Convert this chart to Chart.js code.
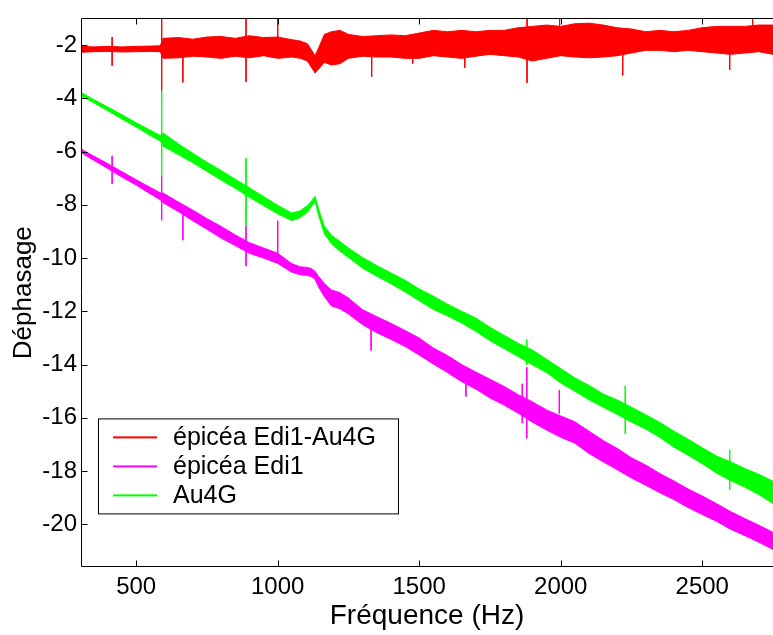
<!DOCTYPE html>
<html>
<head>
<meta charset="utf-8">
<title>Déphasage</title>
<script src="https://cdn.jsdelivr.net/npm/chart.js@4.4.1/dist/chart.umd.min.js"></script>
<style>
  html, body { margin: 0; padding: 0; background: #fff; }
  #wrap { width: 773px; height: 635px; }
</style>
</head>
<body>
<div id="wrap"><canvas id="chart" width="773" height="635"></canvas></div>
<script>
// frequencies (Hz) where the envelope of each noisy trace was read
const freq = [305, 350, 400, 450, 500, 550, 585, 595, 650, 700, 750, 800, 850, 900, 950, 1000,
  1050, 1080, 1105, 1120, 1132, 1145, 1165, 1190, 1220, 1250, 1300, 1350, 1400, 1450, 1500,
  1550, 1600, 1650, 1700, 1750, 1800, 1850, 1900, 1950, 2000, 2050, 2100, 2150, 2200, 2250,
  2300, 2350, 2400, 2450, 2500, 2550, 2600, 2650, 2700, 2750]

// épicéa Edi1-Au4G (upper / lower edge of the band)
const redHigh = [-2.05, -2.07, -2.05, -2.07, -2.05, -2.04, -2.03, -1.75, -1.72, -1.78, -1.70, -1.68, -1.75, -1.65, -1.72, -1.70,
  -1.80, -1.85, -1.95, -2.20, -2.40, -2.10, -1.60, -1.50, -1.45, -1.60, -1.68, -1.65, -1.62, -1.65, -1.55,
  -1.45, -1.50, -1.45, -1.50, -1.45, -1.45, -1.35, -1.30, -1.25, -1.30, -1.20, -1.18, -1.25, -1.35, -1.40,
  -1.50, -1.45, -1.50, -1.45, -1.35, -1.30, -1.30, -1.30, -1.25, -1.25]
const redLow = [-2.27, -2.25, -2.24, -2.26, -2.25, -2.24, -2.25, -2.50, -2.48, -2.42, -2.45, -2.50, -2.42, -2.48, -2.40, -2.50,
  -2.45, -2.50, -2.60, -2.85, -3.05, -2.90, -2.65, -2.75, -2.70, -2.50, -2.42, -2.45, -2.45, -2.50, -2.50,
  -2.40, -2.45, -2.50, -2.42, -2.35, -2.40, -2.45, -2.60, -2.50, -2.40, -2.45, -2.48, -2.45, -2.40, -2.30,
  -2.20, -2.20, -2.25, -2.20, -2.25, -2.30, -2.35, -2.30, -2.25, -2.35]

// épicéa Edi1
const magHigh = [-5.90, -6.17, -6.46, -6.76, -7.06, -7.35, -7.55, -7.56, -7.90, -8.20, -8.52, -8.81, -9.13, -9.42, -9.62, -9.82,
  -10.21, -10.33, -10.35, -10.40, -10.50, -10.70, -10.95, -11.20, -11.30, -11.50, -11.94, -12.20, -12.45, -12.72, -13.00,
  -13.38, -13.66, -14.00, -14.28, -14.55, -14.82, -15.13, -15.40, -15.70, -15.93, -16.15, -16.50, -16.85, -17.15, -17.50,
  -17.77, -18.09, -18.37, -18.67, -18.93, -19.22, -19.52, -19.78, -20.03, -20.30]
const magLow = [-6.04, -6.33, -6.64, -6.96, -7.26, -7.59, -7.81, -7.92, -8.26, -8.60, -8.92, -9.25, -9.53, -9.82, -10.00, -10.20,
  -10.53, -10.63, -10.65, -10.70, -10.80, -11.10, -11.45, -11.80, -11.90, -12.10, -12.50, -12.80, -13.05, -13.32, -13.64,
  -13.98, -14.30, -14.64, -14.92, -15.25, -15.52, -15.83, -16.16, -16.46, -16.73, -16.95, -17.34, -17.65, -17.95, -18.26,
  -18.53, -18.81, -19.07, -19.37, -19.63, -19.88, -20.18, -20.42, -20.67, -20.94]

// Au4G
const greenHigh = [-3.78, -4.05, -4.33, -4.62, -4.92, -5.20, -5.40, -5.30, -5.72, -6.06, -6.40, -6.71, -7.04, -7.36, -7.69, -8.02,
  -8.31, -8.22, -8.03, -7.85, -7.68, -8.18, -8.81, -9.14, -9.38, -9.62, -9.98, -10.28, -10.56, -10.83, -11.16,
  -11.43, -11.73, -12.00, -12.25, -12.60, -12.90, -13.20, -13.45, -13.80, -14.15, -14.50, -14.78, -15.10, -15.33, -15.60,
  -15.88, -16.17, -16.50, -16.80, -17.12, -17.43, -17.65, -17.90, -18.12, -18.38]
const greenLow = [-3.90, -4.17, -4.47, -4.78, -5.08, -5.40, -5.60, -5.80, -6.12, -6.42, -6.74, -7.07, -7.38, -7.72, -8.03, -8.34,
  -8.59, -8.48, -8.27, -8.05, -7.88, -8.42, -9.09, -9.46, -9.74, -9.98, -10.38, -10.68, -10.96, -11.27, -11.60,
  -11.93, -12.17, -12.44, -12.75, -13.10, -13.40, -13.70, -14.01, -14.30, -14.69, -15.00, -15.32, -15.60, -15.87, -16.16,
  -16.42, -16.73, -17.10, -17.40, -17.72, -18.07, -18.35, -18.60, -18.88, -19.22]

// isolated spikes: [frequency, top, bottom]
const redSpikes = [[415, -1.7, -2.78], [590, -1.0, -3.7], [665, -2.3, -3.4], [888, -1.0, -3.38], [1000, -1.0, -2.2],
  [1332, -2.3, -3.2], [1477, -2.3, -2.7], [1661, -2.3, -2.86], [1881, -1.0, -3.42], [1996, -1.0, -2.3],
  [2219, -2.2, -3.14], [2597, -2.2, -2.93], [2678, -1.0, -2.0]]
const magSpikes = [[415, -6.16, -7.21], [590, -6.9, -8.58], [665, -8.2, -9.33], [888, -8.8, -10.3], [1000, -8.6, -10.07],
  [1330, -12.55, -13.47], [1665, -14.5, -15.2], [1864, -14.72, -16.2], [1880, -14.1, -16.77], [1995, -14.96, -15.84]]
const greenSpikes = [[590, -3.7, -6.9], [888, -6.25, -8.8], [1880, -13.06, -14.0], [2228, -14.8, -16.6], [2597, -17.2, -18.7]]

const xTicks = [500, 1000, 1500, 2000, 2500]
const yTicks = [-20, -18, -16, -14, -12, -10, -8, -6, -4, -2]

const seriesNames = ['épicéa Edi1-Au4G', 'épicéa Edi1', 'Au4G']
const seriesColors = ['#ff0000', '#ff00ff', '#00ff00']

const FONT = "'Liberation Sans', Arial, sans-serif"

function edge(values) {
  return values.map((v, i) => ({ x: freq[i], y: v }))
}

function spikes(list) {
  const pts = []
  list.forEach(s => {
    pts.push({ x: s[0], y: s[1] }, { x: s[0], y: s[2] }, { x: s[0], y: null })
  })
  return pts
}

function band(high, low, color, order) {
  return [
    { data: edge(high), borderColor: color, backgroundColor: color, borderWidth: 1, fill: false, order: order },
    { data: edge(low), borderColor: color, backgroundColor: color, borderWidth: 1, fill: '-1', order: order }
  ]
}

function spikeSet(list, color, order) {
  return { data: spikes(list), borderColor: color, borderWidth: 1, fill: false, spanGaps: false, order: order }
}

// MATLAB-like box: frame on left / top / bottom, inward ticks
const framePlugin = {
  id: 'frame',
  afterDatasetsDraw(chart) {
    const { ctx, chartArea: a, scales: { x, y } } = chart
    const L = Math.round(a.left) + 0.5
    const T = Math.round(a.top) + 0.5
    const B = Math.round(a.bottom) - 0.5
    ctx.save()
    ctx.strokeStyle = '#000'
    ctx.lineWidth = 1
    ctx.beginPath()
    ctx.moveTo(a.right, T); ctx.lineTo(L, T); ctx.lineTo(L, B); ctx.lineTo(a.right, B)
    xTicks.forEach(v => {
      const px = Math.round(x.getPixelForValue(v)) + 0.5
      ctx.moveTo(px, B); ctx.lineTo(px, B - 6)
      ctx.moveTo(px, T); ctx.lineTo(px, T + 6)
    })
    yTicks.forEach(v => {
      const py = Math.round(y.getPixelForValue(v)) + 0.5
      ctx.moveTo(L, py); ctx.lineTo(L + 6, py)
    })
    ctx.stroke()
    ctx.restore()
  }
}

// legend box inside the axes, lower left
const legendPlugin = {
  id: 'boxLegend',
  afterDraw(chart) {
    const { ctx, chartArea: a } = chart
    const left = a.left + 17, top = a.top + 400, w = 300, h = 95
    const rows = [18, 47, 76]
    ctx.save()
    ctx.fillStyle = '#fff'
    ctx.fillRect(left, top, w, h)
    ctx.strokeStyle = '#000'
    ctx.lineWidth = 1
    ctx.strokeRect(left + 0.5, top + 0.5, w, h)
    ctx.font = '25px ' + FONT
    ctx.textBaseline = 'middle'
    ctx.textAlign = 'left'
    seriesNames.forEach((name, i) => {
      ctx.fillStyle = seriesColors[i]
      ctx.fillRect(left + 15, top + rows[i], 44, 2)
      ctx.fillStyle = '#000'
      ctx.fillText(name, left + 75, top + rows[i] + 2)
    })
    ctx.restore()
  }
}

Chart.defaults.font.family = FONT
Chart.defaults.color = '#000'

const datasets = [
  ...band(greenHigh, greenLow, seriesColors[2], 1),
  spikeSet(greenSpikes, seriesColors[2], 1),
  ...band(magHigh, magLow, seriesColors[1], 2),
  spikeSet(magSpikes, seriesColors[1], 2),
  ...band(redHigh, redLow, seriesColors[0], 0),
  spikeSet(redSpikes, seriesColors[0], 0)
]

new Chart(document.getElementById('chart'), {
  type: 'line',
  data: { datasets: datasets },
  options: {
    responsive: false,
    animation: false,
    layout: { padding: { top: 13, right: 0, bottom: 0, left: 0 } },
    elements: { point: { radius: 0, hoverRadius: 0 }, line: { tension: 0 } },
    plugins: {
      legend: { display: false },
      tooltip: { enabled: false },
      filler: { propagate: false }
    },
    scales: {
      x: {
        type: 'linear',
        min: 305,
        max: 2750,
        grid: { display: false, drawTicks: false },
        border: { display: false },
        afterBuildTicks: (scale) => { scale.ticks = xTicks.map(v => ({ value: v })) },
        afterFit: (scale) => { scale.height = 68 },
        ticks: { font: { size: 24 }, padding: 6, maxRotation: 0, autoSkip: false, callback: (value) => String(value) },
        title: { display: true, text: 'Fréquence (Hz)', font: { size: 28 }, padding: { top: 0, bottom: 2 } }
      },
      y: {
        type: 'linear',
        min: -21.6,
        max: -1,
        grid: { display: false, drawTicks: false },
        border: { display: false },
        afterBuildTicks: (scale) => { scale.ticks = yTicks.map(v => ({ value: v })) },
        afterFit: (scale) => { scale.width = 81 },
        ticks: { font: { size: 24 }, padding: 4, autoSkip: false, callback: (value) => String(value) },
        title: { display: true, text: 'Déphasage', font: { size: 26 }, padding: { top: 8, bottom: 0 } }
      }
    }
  },
  plugins: [framePlugin, legendPlugin]
})
</script>
</body>
</html>
